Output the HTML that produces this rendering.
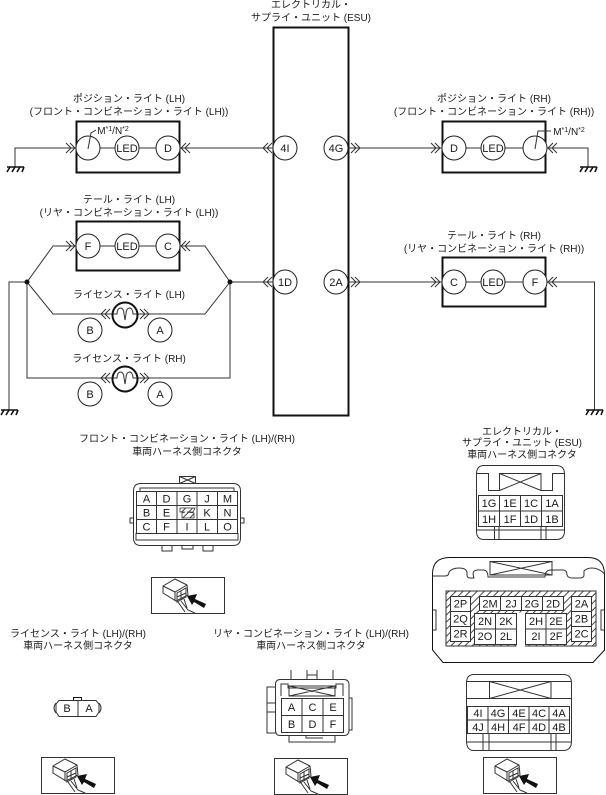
<!DOCTYPE html>
<html lang="ja"><head><meta charset="utf-8"><title>Diagram</title>
<style>
html,body{margin:0;padding:0;background:#fff}
svg{display:block}
text{font-family:"Liberation Sans","Noto Sans CJK JP",sans-serif;font-size:11px;fill:#1a1a1a;text-anchor:middle}
text.s{font-size:10px}
.w{fill:none;stroke:#333;stroke-width:1}
.c{fill:#fff;stroke:#222;stroke-width:1}
.t{fill:none;stroke:#111;stroke-width:2}
.g{fill:#fff;stroke:#333;stroke-width:1}
.o{fill:none;stroke:#333;stroke-width:1}
</style></head><body>
<svg width="606" height="795" viewBox="0 0 606 795" xmlns="http://www.w3.org/2000/svg">
<defs>
<g id="r"><path class="w" d="M-9,-5L-4,0L-9,5M-5,-5L0,0L-5,5"/></g>
<g id="l"><path class="w" d="M9,-5L4,0L9,5M5,-5L0,0L5,5"/></g>
<g id="gnd"><path d="M-8,0H9" fill="none" stroke="#111" stroke-width="1.5"/><path d="M-5,0L-8,5M0,0L-3,5M5,0L2,5M9,0L7,5" fill="none" stroke="#111" stroke-width="1.6"/></g>
<g id="bulb"><circle r="12.5" fill="#fff" stroke="#111" stroke-width="2"/><path class="w" d="M-12,-1H-8C-8,-9 -1,-9 -1,-1L0,5L1,-1C1,-9 8,-9 8,-1H12"/></g>
<g id="icon">
<rect x="0.5" y="0.5" width="73" height="36" fill="#fff" stroke="#333"/>
<path class="o" d="M12,9L24,2L36,8L37,18L25,24L12,16ZM12,9L24,15L36,8M24,15V24"/>
<path class="o" d="M26,16L35,11V20L26,25ZM30,14V23M26,20L35,16"/>
<path class="o" d="M27,25L34,35M30,24L37,33L44,36M33,22L36,31"/>
<path d="M55,27L44,22L46,17L36,19L41,28L43,25L53,31Z" fill="#111"/>
</g>
<pattern id="h" width="5" height="5" patternUnits="userSpaceOnUse" patternTransform="rotate(45)"><rect width="5" height="5" fill="#fff"/><rect width="1" height="5" fill="#444"/></pattern>
</defs>

<rect class="t" x="273.5" y="27.5" width="75" height="388" fill="#fff"/>
<text class="s" x="311" y="8">エレクトリカル・</text>
<text class="s" x="311" y="21">サプライ・ユニット (ESU)</text>

<!-- top left -->
<text class="s" x="129" y="102">ポジション・ライト (LH)</text>
<text class="s" x="129" y="115">(フロント・コンビネーション・ライト (LH))</text>
<path class="w" d="M15,167V148H76M100,148H115M139,148H156M180,148H273"/>
<use href="#gnd" x="15" y="167"/>
<rect class="t" x="76.5" y="121.5" width="103" height="51"/>
<circle class="c" cx="88" cy="148" r="12"/><path class="w" d="M88,149L91,133L96,130"/>
<text class="s" x="113" y="134">M<tspan dy="-3" style="font-size:7px">*1</tspan><tspan dy="3">/N</tspan><tspan dy="-3" style="font-size:7px">*2</tspan></text>
<circle class="c" cx="127" cy="148" r="12"/><text x="127" y="152">LED</text>
<circle class="c" cx="168" cy="148" r="12"/><text x="168" y="152">D</text>
<use href="#r" x="75" y="148"/><use href="#l" x="181" y="148"/><use href="#l" x="263" y="148"/>
<circle class="c" cx="285" cy="148" r="12"/><text x="285" y="152">4I</text>

<!-- top right -->
<text class="s" x="494" y="102">ポジション・ライト (RH)</text>
<text class="s" x="494" y="115">(フロント・コンビネーション・ライト (RH))</text>
<path class="w" d="M349,148H442M466,148H481M505,148H523M547,148H588V167"/>
<use href="#gnd" x="588" y="167"/>
<rect class="t" x="442.5" y="121.5" width="103" height="51"/>
<circle class="c" cx="336" cy="148" r="12"/><text x="336" y="152">4G</text>
<use href="#r" x="360" y="148"/><use href="#r" x="440" y="148"/><use href="#l" x="548" y="148"/>
<circle class="c" cx="454" cy="148" r="12"/><text x="454" y="152">D</text>
<circle class="c" cx="493" cy="148" r="12"/><text x="493" y="152">LED</text>
<circle class="c" cx="535" cy="148" r="12"/><path class="w" d="M535,149L538,131H551"/>
<text class="s" x="569" y="135">M<tspan dy="-3" style="font-size:7px">*1</tspan><tspan dy="3">/N</tspan><tspan dy="-3" style="font-size:7px">*2</tspan></text>

<!-- tail left -->
<text class="s" x="129" y="203">テール・ライト (LH)</text>
<text class="s" x="129" y="216">(リヤ・コンビネーション・ライト (LH))</text>
<path class="w" d="M76,246H53L27,282L53,314H205L230,282L205,246H180M100,246H115M139,246H156M230,282H273M27,282H9V410M27,282V378H230V282"/>
<use href="#gnd" x="9" y="410"/>
<rect class="t" x="76.5" y="221.5" width="103" height="49"/>
<circle class="c" cx="88" cy="246" r="12"/><text x="88" y="250">F</text>
<circle class="c" cx="127" cy="246" r="12"/><text x="127" y="250">LED</text>
<circle class="c" cx="168" cy="246" r="12"/><text x="168" y="250">C</text>
<use href="#r" x="75" y="246"/><use href="#l" x="181" y="246"/><use href="#l" x="263" y="282"/>
<circle cx="27" cy="282" r="2.5" fill="#111"/><circle cx="230" cy="282" r="2.5" fill="#111"/>
<circle class="c" cx="285" cy="282" r="12"/><text x="285" y="286">1D</text>

<text class="s" x="129" y="298">ライセンス・ライト (LH)</text>
<use href="#bulb" x="125" y="315"/><use href="#l" x="101" y="314"/><use href="#r" x="149" y="314"/>
<circle class="c" cx="90" cy="330" r="12"/><text x="90" y="334">B</text>
<circle class="c" cx="160" cy="330" r="12"/><text x="160" y="334">A</text>

<text class="s" x="129" y="362">ライセンス・ライト (RH)</text>
<use href="#bulb" x="125" y="379"/><use href="#l" x="101" y="378"/><use href="#r" x="149" y="378"/>
<circle class="c" cx="90" cy="394" r="12"/><text x="90" y="398">B</text>
<circle class="c" cx="160" cy="394" r="12"/><text x="160" y="398">A</text>

<!-- tail right -->
<text class="s" x="494" y="239">テール・ライト (RH)</text>
<text class="s" x="494" y="252">(リヤ・コンビネーション・ライト (RH))</text>
<path class="w" d="M349,282H442M466,282H481M505,282H523M547,282H594.5V410"/>
<use href="#gnd" x="594" y="410"/>
<rect class="t" x="442.5" y="257.5" width="103" height="49"/>
<circle class="c" cx="336" cy="282" r="12"/><text x="336" y="286">2A</text>
<use href="#r" x="360" y="282"/><use href="#r" x="440" y="282"/><use href="#l" x="548" y="282"/>
<circle class="c" cx="454" cy="282" r="12"/><text x="454" y="286">C</text>
<circle class="c" cx="493" cy="282" r="12"/><text x="493" y="286">LED</text>
<circle class="c" cx="535" cy="282" r="12"/><text x="535" y="286">F</text>

<!-- front connector -->
<text class="s" x="187" y="442">フロント・コンビネーション・ライト (LH)/(RH)</text>
<text class="s" x="187" y="455">車両ハーネス側コネクタ</text>
<path class="o" d="M179.5,476.5H195.5V483.5H179.5ZM179.5,476.5L195.5,483.5M195.5,476.5L179.5,483.5"/>
<path class="o" d="M141,483.5H233Q240.5,483.5 240.5,491V538Q240.5,545.5 233,545.5H141Q133.5,545.5 133.5,538V491Q133.5,483.5 141,483.5Z" fill="#fff"/>
<path class="o" d="M140,491V488H234V491M136,533V540H238V533"/>
<path class="o" d="M133.5,518H130V523H133.5M240.5,518H244V523H240.5M162,545.5V551H172V545.5M182,545.5V549H193V545.5M203,545.5V551H213V545.5"/>
<rect class="g" x="136.5" y="491.5" width="101" height="42"/>
<path class="o" d="M156.5,491.5V533.5M177,491.5V533.5M197,491.5V533.5M217.5,491.5V533.5M136.5,505.5H237.5M136.5,519.5H237.5"/>
<text x="146.5" y="502.5">A</text><text x="166.5" y="502.5">D</text><text x="187" y="502.5">G</text><text x="207" y="502.5">J</text><text x="227.5" y="502.5">M</text>
<text x="146.5" y="516.5">B</text><text x="166.5" y="516.5">E</text><text x="207" y="516.5">K</text><text x="227.5" y="516.5">N</text>
<text x="146.5" y="530.5">C</text><text x="166.5" y="530.5">F</text><text x="187" y="530.5">I</text><text x="207" y="530.5">L</text><text x="227.5" y="530.5">O</text>
<path d="M180,508H195L193,512H187L194,513V518H182V513L185,512H180Z" fill="url(#h)" stroke="#333" stroke-width=".8"/>
<use href="#icon" x="151" y="577"/>

<!-- ESU 1 -->
<text class="s" x="522" y="435">エレクトリカル・</text>
<text class="s" x="522" y="446">サプライ・ユニット (ESU)</text>
<text class="s" x="522" y="458">車両ハーネス側コネクタ</text>
<path class="o" d="M484,465.5H556Q564.5,465.5 564.5,474V531Q564.5,539.5 556,539.5H484Q476.5,539.5 476.5,531V474Q476.5,465.5 484,465.5Z"/>
<path class="o" d="M476.5,473.5H488.5V490.5H499.5V473.5H541V490.5H552.5V473.5H564.5M499.5,473.5L541,490.5M541,473.5L499.5,490.5"/>
<path class="o" d="M476.5,530H564.5M494.5,526V539.5M499,526V539.5M541,526V539.5M546,526V539.5"/>
<rect class="g" x="478.5" y="495.5" width="84" height="31"/>
<path class="o" d="M499.5,495.5V526.5M520.5,495.5V526.5M541.5,495.5V526.5M478.5,511H562.5"/>
<text x="489" y="507">1G</text><text x="510" y="507">1E</text><text x="531" y="507">1C</text><text x="552" y="507">1A</text>
<text x="489" y="523">1H</text><text x="510" y="523">1F</text><text x="531" y="523">1D</text><text x="552" y="523">1B</text>

<!-- ESU 2 -->
<path class="o" d="M450,557.5H588Q604,557.5 604.5,574V650L593,662.5H443L432.5,650V574Q432.5,557.5 450,557.5Z" style="stroke:#111"/>
<path class="o" d="M432.5,576H445Q449,576 449,572Q452,568 459,568Q466,568 467,572V575Q467,578 470,578H474Q471,570 478,570H483Q488,570 488,577H545Q545,570 551,570H563Q567,570 567,575Q568,578 572,578H580Q584,578 584,575V571Q587,568 592,568Q599,568 604.5,574"/>
<path class="o" d="M490,561.5H552V575H490ZM490,561.5L552,575M552,561.5L490,575"/>
<path class="o" d="M432.5,610H436V630H432.5M604.5,610H601V630H604.5"/>
<rect x="446" y="591" width="150" height="55" fill="url(#h)" stroke="#333"/>
<rect x="516.5" y="612.5" width="8.5" height="34" fill="#fff"/>
<rect class="g" x="450.5" y="596.5" width="20" height="45"/><path class="o" d="M450.5,611.5H470.5M450.5,626.5H470.5"/>
<rect class="g" x="479.5" y="596.5" width="84" height="14"/><path class="o" d="M500.5,596.5V610.5M521.5,596.5V610.5M542.5,596.5V610.5"/>
<rect class="g" x="474.5" y="613.5" width="42" height="31"/><path class="o" d="M495.5,613.5V644.5M474.5,629H516.5"/>
<rect class="g" x="525.5" y="613.5" width="41" height="31"/><path class="o" d="M546,613.5V644.5M525.5,629H566.5"/>
<rect class="g" x="571.5" y="596.5" width="20" height="45"/><path class="o" d="M571.5,611.5H591.5M571.5,626.5H591.5"/>
<text x="460.5" y="607.5">2P</text><text x="460.5" y="622.5">2Q</text><text x="460.5" y="637.5">2R</text>
<text x="490" y="607.5">2M</text><text x="511" y="607.5">2J</text><text x="532" y="607.5">2G</text><text x="553" y="607.5">2D</text>
<text x="485" y="625">2N</text><text x="506" y="625">2K</text><text x="485" y="640">2O</text><text x="506" y="640">2L</text>
<text x="536" y="625">2H</text><text x="556" y="625">2E</text><text x="536" y="640">2I</text><text x="556" y="640">2F</text>
<text x="581.5" y="607.5">2A</text><text x="581.5" y="622.5">2B</text><text x="581.5" y="637.5">2C</text>

<!-- ESU 4 -->
<path class="o" d="M474,674.5H563Q571.5,674.5 571.5,683V741Q571.5,750.5 563,750.5H474Q466.5,750.5 466.5,741V683Q466.5,674.5 474,674.5Z"/>
<path class="o" d="M466.5,681.5H489.5V698.5H551V681.5H571.5M489.5,681.5H551L489.5,698.5M489.5,681.5L551,698.5M466.5,698.5H489.5M551,698.5H571.5"/>
<path class="o" d="M466.5,742H571.5M483,733V750.5M489,733V750.5M551,733V750.5M556,733V750.5"/>
<rect class="g" x="467.5" y="706.5" width="102" height="27"/>
<path class="o" d="M488,706.5V733.5M508.5,706.5V733.5M529,706.5V733.5M549,706.5V733.5M467.5,720H569.5"/>
<text x="478" y="717">4I</text><text x="498" y="717">4G</text><text x="519" y="717">4E</text><text x="539" y="717">4C</text><text x="559" y="717">4A</text>
<text x="478" y="731">4J</text><text x="498" y="731">4H</text><text x="519" y="731">4F</text><text x="539" y="731">4D</text><text x="559" y="731">4B</text>
<use href="#icon" x="483" y="757"/>

<!-- license -->
<text class="s" x="78" y="637">ライセンス・ライト (LH)/(RH)</text>
<text class="s" x="78" y="649">車両ハーネス側コネクタ</text>
<rect x="73.5" y="697.5" width="8" height="3" fill="none" stroke="#111"/>
<path class="o" d="M59,700.5H96L99,704V712L96,716.5H59L56,712V704ZM56,703Q52,708 56,713M99,703Q103,708 99,713M78,700.5V716.5"/>
<text x="67" y="712">B</text><text x="89" y="712">A</text>
<use href="#icon" x="41" y="757"/>

<!-- rear -->
<text class="s" x="311" y="637">リヤ・コンビネーション・ライト (LH)/(RH)</text>
<text class="s" x="311" y="649">車両ハーネス側コネクタ</text>
<path class="o" d="M291,670V679M333,670V679M307,670V679M317,670V679M307,675H317"/>
<path class="o" d="M280,679.5H344Q349,679.5 349,685V730Q349,735.5 344,735.5H280Q275.5,735.5 275.5,730V685Q275.5,679.5 280,679.5Z"/>
<path class="o" d="M281,696V684H288V688H336V684H343V696M289,686H335V696H289ZM289,686L335,696M335,686L289,696"/>
<path class="o" d="M275.5,687H267V733H275.5M267,703H275.5M267,712H275.5M349,698H352V730H349M289,735.5V742H335V735.5M306,735.5V738H323"/>
<rect class="g" x="281.5" y="698.5" width="62" height="34"/>
<path class="o" d="M302,698.5V732.5M323,698.5V732.5M281.5,715.5H343.5"/>
<text x="291.5" y="711">A</text><text x="312.5" y="711">C</text><text x="333" y="711">E</text>
<text x="291.5" y="728">B</text><text x="312.5" y="728">D</text><text x="333" y="728">F</text>
<use href="#icon" x="274" y="758"/>
</svg>
</body></html>
